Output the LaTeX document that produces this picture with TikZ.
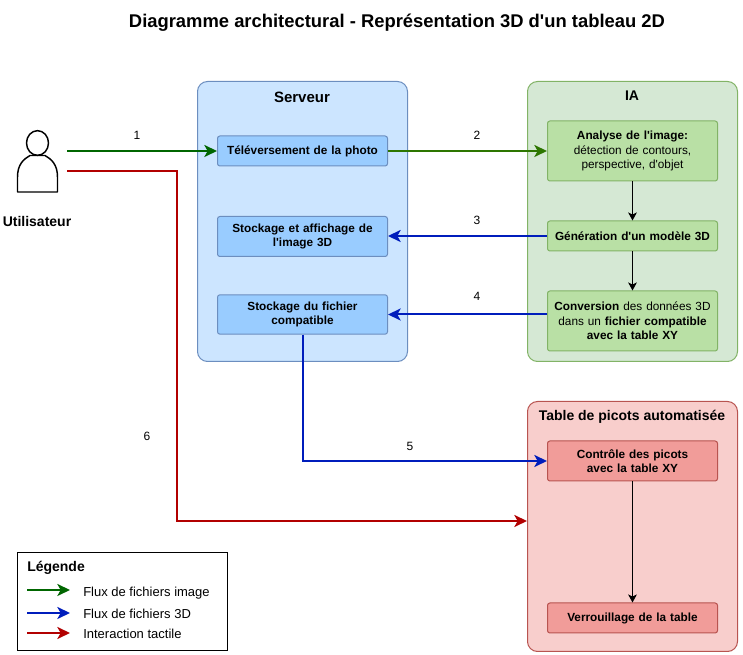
\documentclass[tikz,border=0pt]{standalone}
\usepackage{fontspec}
\setmainfont{Liberation Sans}[Ligatures=TeXOff]
\usetikzlibrary{arrows.meta,calc,shapes.geometric}
\definecolor{srvfill}{HTML}{CCE5FF}
\definecolor{srvin}{HTML}{99CCFF}
\definecolor{srvline}{HTML}{6C8EBF}
\definecolor{iafill}{HTML}{D5E8D4}
\definecolor{iain}{HTML}{B9E0A5}
\definecolor{ialine}{HTML}{82B366}
\definecolor{tabfill}{HTML}{F8CECC}
\definecolor{tabin}{HTML}{F19C99}
\definecolor{tabline}{HTML}{B85450}
\definecolor{flowgreen}{HTML}{006600}
\definecolor{flowgreenb}{HTML}{2D7600}
\definecolor{flowblue}{HTML}{001DBC}
\definecolor{flowred}{HTML}{B20000}
\tikzset{
  px/.style={x=0.75pt,y=-0.75pt},
  zone/.style={rounded corners=7.5pt,line width=0.75pt,minimum width=157.5pt,inner sep=0pt},
  inbox/.style={rounded corners=1.8pt,line width=0.75pt,minimum width=127.5pt,text width=125pt,align=center,inner sep=0pt,font=\fontsize{8.85}{10.8}\selectfont\bfseries},
  srvbox/.style={inbox,draw=srvline,fill=srvin},
  iabox/.style={inbox,draw=ialine,fill=iain},
  tabbox/.style={inbox,draw=tabline,fill=tabin},
  zonetitle/.style={font=\fontsize{10.5}{12.6}\selectfont\bfseries,inner sep=0pt},
  steplabel/.style={font=\fontsize{9}{10.8}\selectfont,inner sep=0pt},
  flow/.style={line width=1.5pt,-{Stealth[length=9.5pt,width=9pt,inset=2.5pt]}},
  thin flow/.style={line width=0.75pt,black,-{Stealth[length=6pt,width=6.5pt,inset=1.5pt]}},
  legtext/.style={font=\fontsize{9.75}{11.7}\selectfont,inner sep=0pt,anchor=west},
}
\begin{document}
\begin{tikzpicture}[px]
\useasboundingbox (0,0) rectangle (743,655);
\fill[white] (0,0) rectangle (743,655);
\node[font=\fontsize{13.8}{16.5}\selectfont\bfseries,inner sep=0pt] (title) at (397,22.5) {Diagramme architectural - Représentation 3D d'un tableau 2D};

% zones
\node[zone,draw=srvline,fill=srvfill,minimum height=210pt] (srv) at (302.5,221.5) {};
\node[zone,draw=ialine,fill=iafill,minimum height=210pt] (ia) at (632.5,221.5) {};
\node[zone,draw=tabline,fill=tabfill,minimum height=187.5pt] (tab) at (632.5,526.5) {};
\node[zonetitle,font=\fontsize{11.25}{13.5}\selectfont\bfseries] (srvt) at (302,97) {Serveur};
\node[zonetitle] (iat) at (632,96) {IA};
\node[zonetitle] (tabt) at (632,416.5) {Table de picots automatisée};

% server boxes
\node[srvbox,minimum height=22.5pt] (up) at (302.5,151) {Téléversement de la photo};
\node[srvbox,minimum height=30pt] (disp) at (302.5,236.5) {Stockage et affichage de\\l'image 3D};
\node[srvbox,minimum height=29.5pt] (file) at (302.5,314.5) {Stockage du fichier\\compatible};

% IA boxes
\node[iabox,minimum height=45pt] (ana) at (632.5,151) {Analyse de l'image:\\\mdseries détection de contours,\\perspective, d'objet};
\node[iabox,minimum height=22.5pt] (gen) at (632.5,236) {Génération d'un modèle 3D};
\node[iabox,minimum height=45pt] (conv) at (632.5,321) {Conversion \mdseries des données 3D\\dans un \bfseries fichier compatible\\avec la table XY};

% table boxes
\node[tabbox,minimum height=30pt] (ctl) at (632.5,461) {Contrôle des picots\\avec la table XY};
\node[tabbox,minimum height=22.5pt] (lock) at (632.5,618) {Verrouillage de la table};

% user
\node[ellipse,draw=black,line width=1.1pt,fill=white,minimum width=16.5pt,minimum height=18.5pt,inner sep=0pt] (head) at (37.5,143) {};
\draw[line width=1.1pt,line join=round] (17.5,192) -- (17.5,177) .. controls (17.5,164) and (24,159) .. (30,155.5) -- (45,155.5) .. controls (51,159) and (57.5,164) .. (57.5,177) -- (57.5,192) -- cycle;
\node[font=\fontsize{10.5}{12.6}\selectfont\bfseries,inner sep=0pt] (user) at (37,221.5) {Utilisateur};
\coordinate (ug) at (67,151);
\coordinate (ur) at (67,171);
\coordinate (ra) at (177,171);
\coordinate (rb) at (177,521);
\coordinate (tabin) at (tab.west |- rb);

% flows
\draw[flow,flowgreen] (ug) -- (up.west);
\draw[flow,flowgreenb] (up.east) -- (ana.west);
\draw[flow,flowblue] (gen.west) -- (gen.west -| disp.east);
\draw[flow,flowblue] (conv.west |- file.east) -- (file.east);
\draw[flow,flowblue] (file.south) |- (ctl.west);
\draw[flow,flowred] (ur) -- (ra) -- (rb) -- (tabin);
\draw[thin flow] (ana.south) -- (gen.north);
\draw[thin flow] (gen.south) -- (conv.north);
\draw[thin flow] (ctl.south) -- (lock.north);

\node[steplabel] (l1) at (137,135.5) {1};
\node[steplabel] (l2) at (477,135.5) {2};
\node[steplabel] (l3) at (477,220.5) {3};
\node[steplabel] (l4) at (477,296) {4};
\node[steplabel] (l5) at (410,446) {5};
\node[steplabel] (l6) at (147,436) {6};

% legend
\node[draw=black,fill=white,line width=0.75pt,minimum width=157.5pt,minimum height=74pt,inner sep=0pt] (leg) at (122.5,601.5) {};
\node[font=\fontsize{10.5}{12.6}\selectfont\bfseries,inner sep=0pt,anchor=west] (legt) at (27,567.5) {Légende};
\coordinate (g0) at (27,590); \coordinate (g1) at (70,590);
\coordinate (b0) at (27,613); \coordinate (b1) at (70,613);
\coordinate (r0) at (27,633); \coordinate (r1) at (70,633);
\draw[flow,flowgreen] (g0) -- (g1);
\draw[flow,flowblue] (b0) -- (b1);
\draw[flow,flowred] (r0) -- (r1);
\node[legtext] (lg) at (83,593.5) {Flux de fichiers image};
\node[legtext] (lb) at (83,613.5) {Flux de fichiers 3D};
\node[legtext] (lr) at (83,633.5) {Interaction tactile};
\end{tikzpicture}
\end{document}
